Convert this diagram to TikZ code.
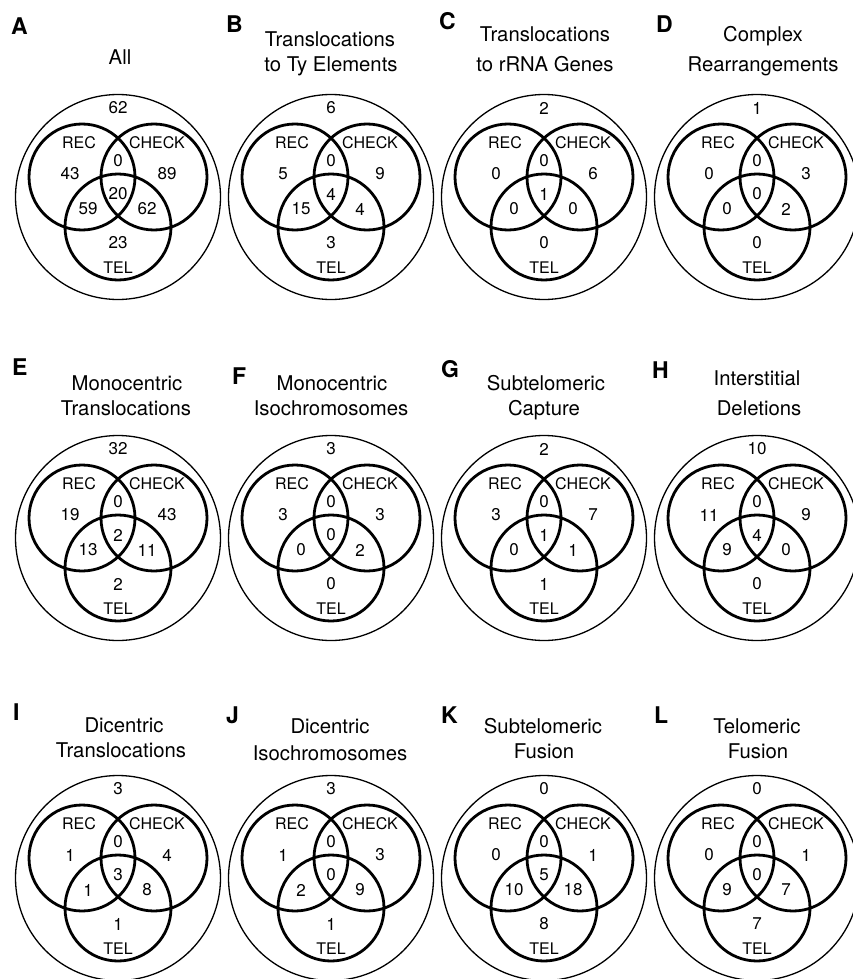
\documentclass[tikz,border=0pt]{standalone}
\usepackage{fontspec}
\setmainfont{TeX Gyre Heros}
\begin{document}
\begin{tikzpicture}[x=1pt,y=-1pt,
  outercirc/.style={circle,draw,line width=1.3pt,minimum size=205pt,inner sep=0pt},
  setcirc/.style={circle,draw,line width=2.8pt,minimum size=106pt,inner sep=0pt},
  num/.style={font=\fontsize{17}{17}\selectfont,inner sep=0pt},
  setlab/.style={font=\fontsize{16}{16}\selectfont,inner sep=0pt},
  ttl/.style={font=\fontsize{20.3}{20.3}\selectfont,inner sep=0pt,anchor=base},
  letter/.style={font=\fontsize{23}{23}\selectfont\bfseries,inner sep=0pt,anchor=base west}]
\useasboundingbox (0,0) rectangle (852,979);

\foreach \pn/\px/\py/\na/\nr/\nc/\nrc/\nrct/\nrt/\nct/\nt in {
  A/118/197/62/43/89/0/20/59/62/23,
  B/331/197/6/5/9/0/4/15/4/3,
  C/544/197/2/0/6/0/1/0/0/0,
  D/757/197/1/0/3/0/0/0/2/0,
  E/118/538/32/19/43/0/2/13/11/2,
  F/331/538/3/3/3/0/0/0/2/0,
  G/544/538/2/3/7/0/1/0/1/1,
  H/757/538/10/11/9/0/4/9/0/0,
  I/118/878/3/1/4/0/3/1/8/1,
  J/331/878/3/1/3/0/0/2/9/1,
  K/544/878/0/0/1/0/5/10/18/8,
  L/757/878/0/0/1/0/0/9/7/7}{
  \begin{scope}[shift={(\px,\py)}]
    \node[outercirc] (\pn-all) at (0,0) {};
    \node[setcirc] (\pn-rec) at (-36,-20) {};
    \node[setcirc] (\pn-check) at (36,-20) {};
    \node[setcirc] (\pn-tel) at (0,30) {};
    \node[num] (\pn-nall) at (0,-89) {\na};
    \node[setlab] (\pn-lrec) at (-39,-54) {REC};
    \node[setlab] (\pn-lcheck) at (39,-54) {CHECK};
    \node[setlab] (\pn-ltel) at (0,71) {TEL};
    \node[num] (\pn-nr) at (-48,-23) {\nr};
    \node[num] (\pn-nc) at (49,-23) {\nc};
    \node[num] (\pn-nrc) at (0,-36) {\nrc};
    \node[num] (\pn-nrct) at (0,-3) {\nrct};
    \node[num] (\pn-nrt) at (-30,12) {\nrt};
    \node[num] (\pn-nct) at (29,12) {\nct};
    \node[num] (\pn-nt) at (0,46) {\nt};
  \end{scope}
}

% panel letters
\node[letter] (lA) at (11,35) {A};
\node[letter] (lB) at (226,33) {B};
\node[letter] (lC) at (439,30) {C};
\node[letter] (lD) at (656,33) {D};
\node[letter] (lE) at (12,375) {E};
\node[letter] (lF) at (232,384) {F};
\node[letter] (lG) at (441,377) {G};
\node[letter] (lH) at (652,378) {H};
\node[letter] (lI) at (13,720) {I};
\node[letter] (lJ) at (226,723) {J};
\node[letter] (lK) at (441,723) {K};
\node[letter] (lL) at (654,723) {L};

% titles
\node[ttl] (tA) at (120,65) {All};
\node[ttl] (tB1) at (330,47) {Translocations};
\node[ttl] (tB2) at (331,72) {to Ty Elements};
\node[ttl] (tC1) at (545,42) {Translocations};
\node[ttl] (tC2) at (545,72) {to rRNA Genes};
\node[ttl] (tD1) at (763,42) {Complex};
\node[ttl] (tD2) at (763,72) {Rearrangements};
\node[ttl] (tE1) at (127,390) {Monocentric};
\node[ttl] (tE2) at (126,415) {Translocations};
\node[ttl] (tF1) at (332,390) {Monocentric};
\node[ttl] (tF2) at (331,415) {Isochromosomes};
\node[ttl] (tG1) at (546,390) {Subtelomeric};
\node[ttl] (tG2) at (544,415) {Capture};
\node[ttl] (tH1) at (757,385) {Interstitial};
\node[ttl] (tH2) at (759,415) {Deletions};
\node[ttl] (tI1) at (124,732) {Dicentric};
\node[ttl] (tI2) at (121,757) {Translocations};
\node[ttl] (tJ1) at (330,733) {Dicentric};
\node[ttl] (tJ2) at (330,760) {Isochromosomes};
\node[ttl] (tK1) at (543,733) {Subtelomeric};
\node[ttl] (tK2) at (544,758) {Fusion};
\node[ttl] (tL1) at (757,733) {Telomeric};
\node[ttl] (tL2) at (758,758) {Fusion};
\end{tikzpicture}
\end{document}
